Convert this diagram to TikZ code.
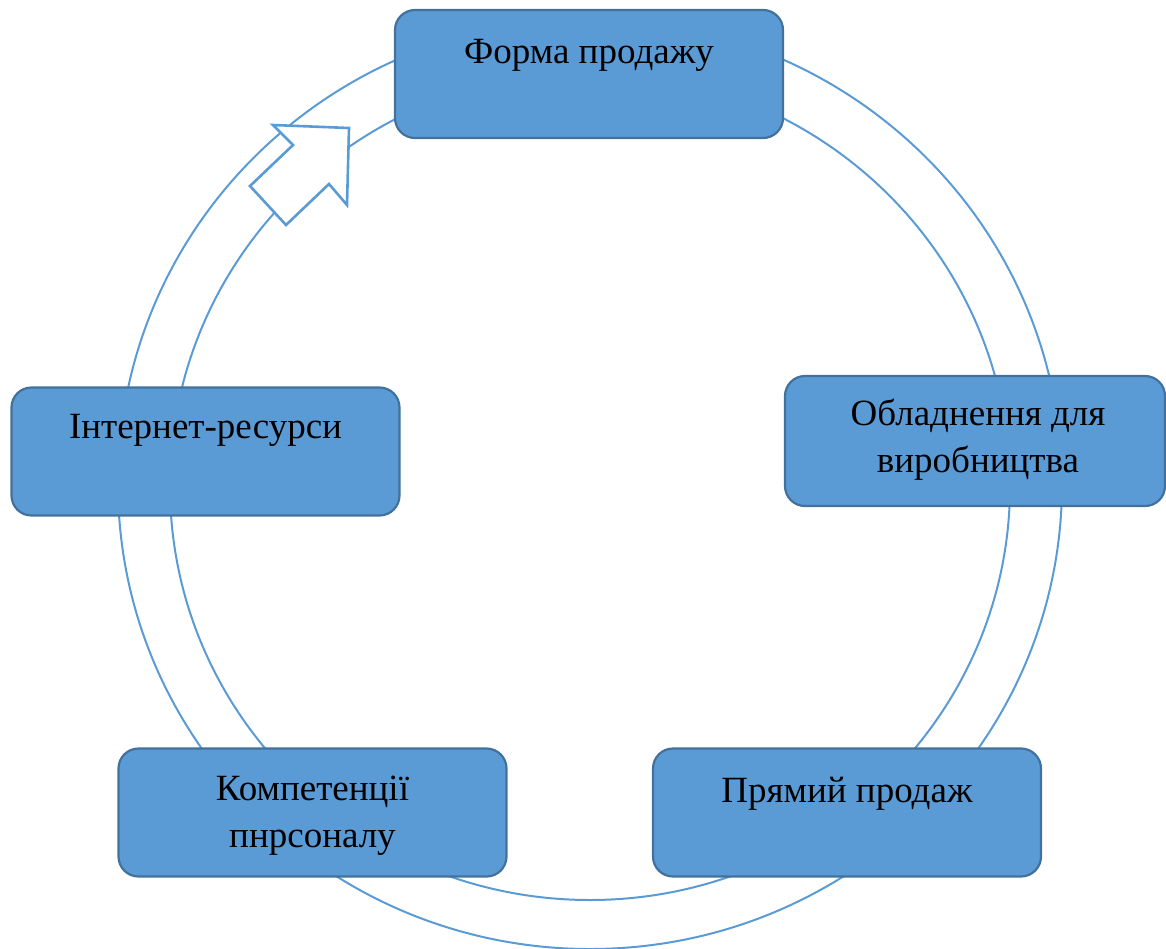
\documentclass[tikz,border=0pt]{standalone}
\usepackage{fontspec}
\setmainfont{Liberation Serif}
\definecolor{boxfill}{HTML}{5B9BD5}
\definecolor{boxline}{HTML}{41719C}
\definecolor{ringline}{HTML}{5B9BD5}
\tikzset{
  ring/.style={draw=ringline, line width=2pt},
  arrowshape/.style={draw=ringline, fill=white, line width=2.6pt, line join=miter},
  box/.style={draw=boxline, fill=boxfill, line width=2.2pt, rounded corners=20pt,
    minimum width=388pt, minimum height=128pt, inner sep=0pt},
  lbl/.style={inner sep=0pt, anchor=base, font=\fontsize{37}{47}\selectfont},
}
\begin{document}
\begin{tikzpicture}[x=1pt,y=-1pt]
\useasboundingbox (0,0) rectangle (1166,948);
\begin{scope}
\clip (0,0) rectangle (1166,948);
% ring
\draw[ring] (590,484) ellipse [x radius=472, y radius=465];
\draw[ring] (590,486) ellipse [x radius=420, y radius=414];
% arrow head at the ring end
\draw[arrowshape] (273,125) -- (349,128) -- (347,205) -- (329,184) -- (286,225) -- (250,186) -- (293,145) -- cycle;
% boxes
\node[box] (b1) at (589,74) {};
\node[box, minimum width=380pt, minimum height=130pt] (b2) at (975,441) {};
\node[box] (b3) at (205.5,451.5) {};
\node[box] (b4) at (312.5,812.5) {};
\node[box] (b5) at (847,812.5) {};
% labels
\node[lbl] (t1) at (589,63) {Форма продажу};
\node[lbl] (t2) at (978,425) {\setlength{\tabcolsep}{0pt}\begin{tabular}[t]{c}Обладнення для\\виробництва\end{tabular}};
\node[lbl] (t3) at (205.5,438) {Інтернет-ресурси};
\node[lbl] (t4) at (312.5,800) {\setlength{\tabcolsep}{0pt}\begin{tabular}[t]{c}Компетенції\\пнрсоналу\end{tabular}};
\node[lbl] (t5) at (847,802) {Прямий продаж};
\end{scope}
\end{tikzpicture}
\end{document}
